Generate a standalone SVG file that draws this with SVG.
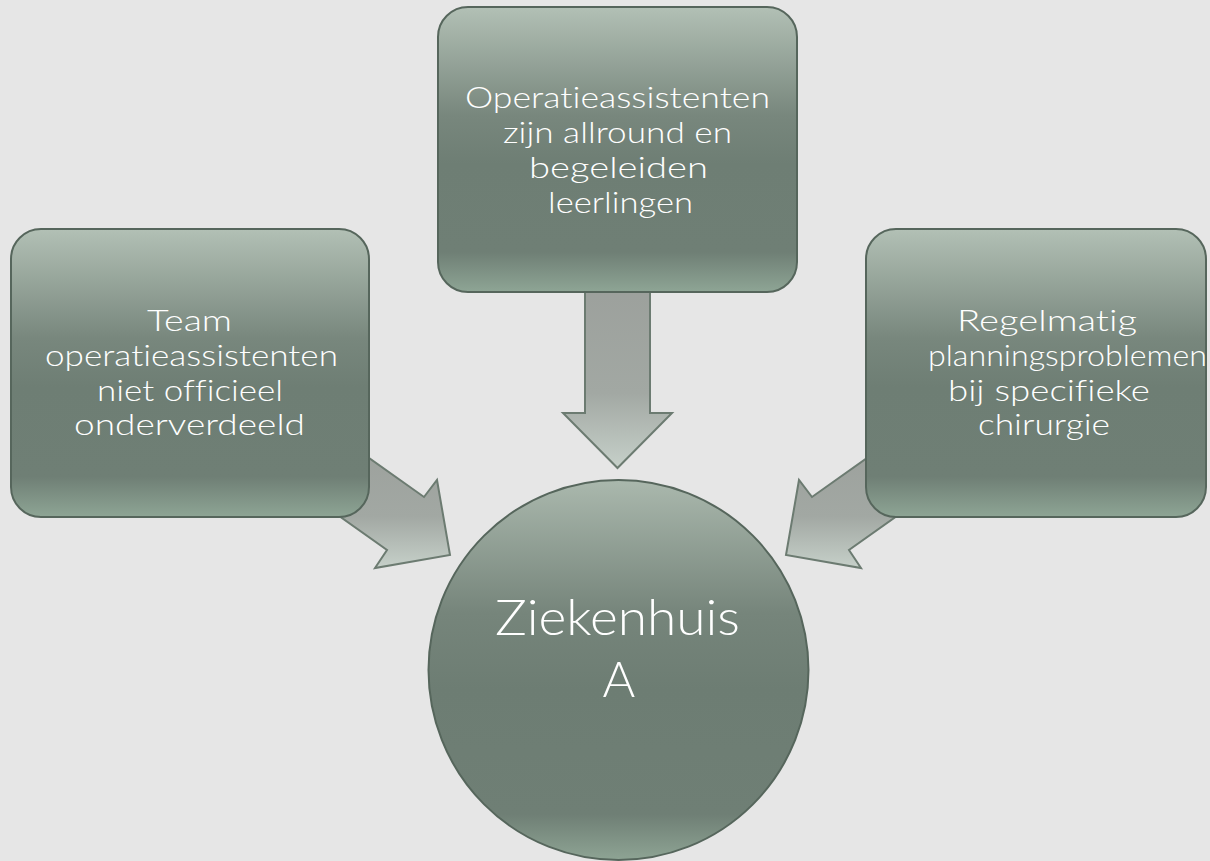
<svg xmlns="http://www.w3.org/2000/svg" width="1210" height="861" viewBox="0 0 1210 861">
<defs>
<linearGradient id="boxGrad" x1="0" y1="0" x2="0" y2="1">
<stop offset="0" stop-color="#b2c0b5"/>
<stop offset="0.38" stop-color="#78877d"/>
<stop offset="0.55" stop-color="#6e7e74"/>
<stop offset="0.86" stop-color="#6f7f75"/>
<stop offset="1" stop-color="#8ea595"/>
</linearGradient>
<linearGradient id="circGrad" x1="0" y1="0" x2="0" y2="1">
<stop offset="0" stop-color="#aab8ad"/>
<stop offset="0.35" stop-color="#76857b"/>
<stop offset="0.55" stop-color="#6d7d73"/>
<stop offset="0.88" stop-color="#6f7f75"/>
<stop offset="1" stop-color="#8ea494"/>
</linearGradient>
<linearGradient id="arrGrad" x1="0" y1="0" x2="0" y2="1">
<stop offset="0" stop-color="#9ca09c"/>
<stop offset="0.6" stop-color="#a2a8a3"/>
<stop offset="1" stop-color="#c6d0c9"/>
</linearGradient>
</defs>
<style>
.box{fill:url(#boxGrad);stroke:#56665c;stroke-width:2}
.circ{fill:url(#circGrad);stroke:#56665c;stroke-width:2}
.arrow{fill:url(#arrGrad);stroke:#6c7b71;stroke-width:2;stroke-linejoin:miter}
.t{font-family:Lato,"Liberation Sans",sans-serif;font-weight:300;font-size:30px;fill:#ffffff;text-anchor:middle;font-variant-ligatures:none}
.big{font-size:50px}
</style>
<rect x="0" y="0" width="1210" height="861" fill="#e6e6e6"/>
<g id="connectors">
<polygon class="arrow" points="585,280 650,280 650,413 672,413 617.5,468 563,413 585,413"/>
<polygon class="arrow" points="342.4,439.1 424,497 437,480 450,555 375,568 387,550 305.4,492.1"/>
<polygon class="arrow" transform="translate(1236,0) scale(-1,1)" points="342.4,439.1 424,497 437,480 450,555 375,568 387,550 305.4,492.1"/>
</g>
<g id="node-top">
<rect class="box" x="438" y="7" width="359" height="285" rx="30" ry="30"/>
<text class="t" x="617.5" y="108" textLength="305" lengthAdjust="spacingAndGlyphs">Operatieassistenten</text>
<text class="t" x="617.5" y="143" textLength="229" lengthAdjust="spacingAndGlyphs">zijn allround en</text>
<text class="t" x="618.5" y="178" textLength="179" lengthAdjust="spacingAndGlyphs">begeleiden</text>
<text class="t" x="620.5" y="213" textLength="145" lengthAdjust="spacingAndGlyphs">leerlingen</text>
</g>
<g id="node-left">
<rect class="box" x="11" y="229" width="358" height="288" rx="30" ry="30"/>
<text class="t" x="189.5" y="331" textLength="85" lengthAdjust="spacingAndGlyphs">Team</text>
<text class="t" x="191.5" y="366" textLength="293" lengthAdjust="spacingAndGlyphs">operatieassistenten</text>
<text class="t" x="190" y="401" textLength="186" lengthAdjust="spacingAndGlyphs">niet officieel</text>
<text class="t" x="189.5" y="435" textLength="231" lengthAdjust="spacingAndGlyphs">onderverdeeld</text>
</g>
<g id="node-right">
<rect class="box" x="866" y="229" width="340" height="288" rx="30" ry="30"/>
<text class="t" x="1047" y="331" textLength="180" lengthAdjust="spacingAndGlyphs">Regelmatig</text>
<text class="t" x="1067.5" y="366" textLength="279" lengthAdjust="spacingAndGlyphs">planningsproblemen</text>
<text class="t" x="1049" y="401" textLength="202" lengthAdjust="spacingAndGlyphs">bij specifieke</text>
<text class="t" x="1044" y="435" textLength="132" lengthAdjust="spacingAndGlyphs">chirurgie</text>
</g>
<g id="node-center">
<circle class="circ" cx="618.5" cy="670" r="190"/>
<text class="t big" x="617.5" y="635" textLength="245" lengthAdjust="spacingAndGlyphs">Ziekenhuis</text>
<text class="t big" x="619" y="697">A</text>
</g>
</svg>
